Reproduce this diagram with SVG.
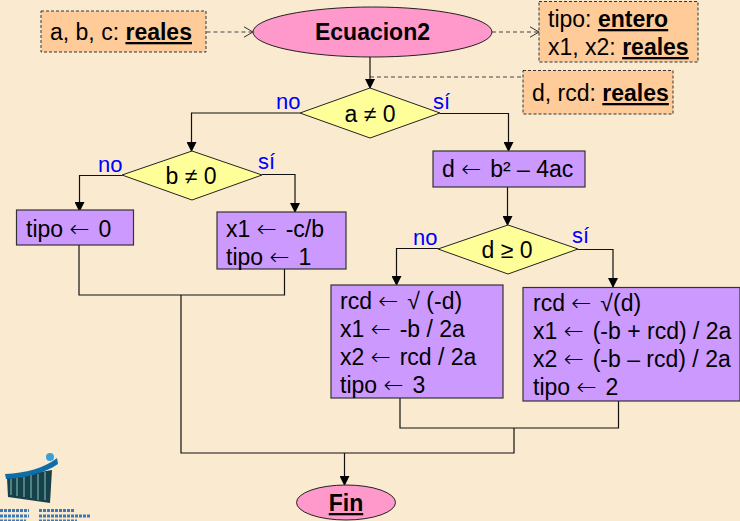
<svg xmlns="http://www.w3.org/2000/svg" width="740" height="521" viewBox="0 0 740 521">
<defs>
<marker id="solid" viewBox="0 0 10 10" refX="9" refY="5" markerUnits="userSpaceOnUse" markerWidth="10" markerHeight="10" orient="auto"><path d="M0 0L10 5L0 10Z" fill="#000"/></marker>
<marker id="open" viewBox="0 0 10 12" refX="9.500" refY="6" markerUnits="userSpaceOnUse" markerWidth="10" markerHeight="12" orient="auto"><path d="M0 0.500L9.500 6L0 11.500" fill="none" stroke="#333" stroke-width="1"/></marker>
</defs>
<style>
text{font-family:"Liberation Sans",Arial,sans-serif;font-size:23px;fill:#000}
.b{font-weight:700;text-decoration:underline}
.lab{fill:#0000ff;font-size:22px}
.a{font-family:"DejaVu Sans","Liberation Sans",sans-serif;font-weight:200;font-size:24px;letter-spacing:2.500px}
.data{fill:#ffcc99;stroke:#333;stroke-width:1;stroke-dasharray:3 2}
.proc{fill:#cc99ff;stroke:#333;stroke-width:1.200}
.dec{fill:#ffff99;stroke:#222;stroke-width:1}
.term{fill:#ff99cc;stroke:#222;stroke-width:1}
.c{fill:none;stroke:#111;stroke-width:1.200}
.d{fill:none;stroke:#444;stroke-width:1;stroke-dasharray:4 3}
.m{text-anchor:middle}
</style>
<rect width="740" height="521" fill="#faebd0"/>
<g id="connectors">
<path class="d" d="M206.500 32H253" marker-end="url(#open)"/>
<path class="d" d="M492 32H539" marker-end="url(#open)"/>
<path class="d" d="M370 77H523"/>
<path class="c" d="M370 56V88" marker-end="url(#solid)"/>
<path class="c" d="M300 113H191.500V151" marker-end="url(#solid)"/>
<path class="c" d="M440 113.500H508.500V151" marker-end="url(#solid)"/>
<path class="c" d="M122 175.500H79.500V211" marker-end="url(#solid)"/>
<path class="c" d="M262 174.500H295V212" marker-end="url(#solid)"/>
<path class="c" d="M507.500 187V225" marker-end="url(#solid)"/>
<path class="c" d="M438 248.500H396.500V285" marker-end="url(#solid)"/>
<path class="c" d="M578 249.500H613V287" marker-end="url(#solid)"/>
<path class="c" d="M79 245V295H284.500V269"/>
<path class="c" d="M400 398V428H618.500V401"/>
<path class="c" d="M181 295V453H514V428"/>
<path class="c" d="M344.500 453V485" marker-end="url(#solid)"/>
</g>
<g id="input"><rect class="data" x="41" y="11" width="165" height="41"/><text x="50" y="40">a, b, c: <tspan class="b">reales</tspan></text></g>
<g id="start"><ellipse class="term" cx="372.500" cy="32" rx="119.500" ry="25"/><text class="m" x="372.500" y="40" font-weight="700">Ecuacion2</text></g>
<g id="output"><rect class="data" x="539" y="1.500" width="159" height="60.500"/><text x="548" y="27">tipo: <tspan class="b">entero</tspan></text><text x="548" y="55">x1, x2: <tspan class="b">reales</tspan></text></g>
<g id="locals"><rect class="data" x="523" y="70.500" width="150" height="43.500"/><text x="532" y="101">d, rcd: <tspan class="b">reales</tspan></text></g>
<g id="dec-a"><path class="dec" d="M300 113L370 88L440 113L370 138Z"/><text class="m" x="370" y="122">a ≠ 0</text></g>
<g id="dec-b"><path class="dec" d="M122 175L192 151L262 175L192 200Z"/><text class="m" x="191" y="184">b ≠ 0</text></g>
<g id="assign-d"><rect class="proc" x="433" y="151" width="152" height="36"/><text x="442" y="177">d <tspan class="a">←</tspan> b² – 4ac</text></g>
<g id="tipo0"><rect class="proc" x="16.500" y="210" width="117" height="35"/><text x="26" y="237">tipo <tspan class="a">←</tspan> 0</text></g>
<g id="tipo1"><rect class="proc" x="217" y="212" width="129" height="57"/><text x="226" y="237">x1 <tspan class="a">←</tspan> -c/b</text><text x="226" y="265">tipo <tspan class="a">←</tspan> 1</text></g>
<g id="dec-d"><path class="dec" d="M438 249L508 225L578 249L508 274Z"/><text class="m" x="507" y="258">d ≥ 0</text></g>
<g id="neg"><rect class="proc" x="331" y="285" width="172" height="113"/><text x="340" y="309">rcd <tspan class="a">←</tspan> √ (-d)</text><text x="340" y="337">x1 <tspan class="a">←</tspan> -b / 2a</text><text x="340" y="365">x2 <tspan class="a">←</tspan> rcd / 2a</text><text x="340" y="393">tipo <tspan class="a">←</tspan> 3</text></g>
<g id="pos"><rect class="proc" x="523" y="287.500" width="217" height="113.500"/><text x="533" y="311">rcd <tspan class="a">←</tspan> √(d)</text><text x="533" y="339">x1 <tspan class="a">←</tspan> (-b + rcd) / 2a</text><text x="533" y="367">x2 <tspan class="a">←</tspan> (-b – rcd) / 2a</text><text x="533" y="395">tipo <tspan class="a">←</tspan> 2</text></g>
<g id="end"><ellipse class="term" cx="346" cy="502.500" rx="49.500" ry="17.500"/><text class="m b" x="346" y="511">Fin</text></g>
<g id="labels">
<text class="lab" x="276" y="109">no</text><text class="lab" x="433" y="109">sí</text>
<text class="lab" x="98" y="172">no</text><text class="lab" x="258" y="169">sí</text>
<text class="lab" x="413" y="245">no</text><text class="lab" x="572" y="243">sí</text>
</g>
<g id="logo">
<path d="M7 478L52 470L50 503L8 497Z" fill="#17404a"/>
<path d="M11 479V495M17 478V496M24 477V497M31 475V498M38 474V500M45 472V500" stroke="#5f9a96" stroke-width="1.500" fill="none"/>
<path d="M5 474C25 473 45 468 57 458L58 464C45 473 25 478 6 479Z" fill="#0f6da8"/>
<circle cx="50" cy="457" r="4" fill="#3d9fd6"/>
<path d="M0 510.500H29M0 516H29M0 521H26M39 510.500H74M39 516H91M39 521H77" stroke="#3b79b8" stroke-width="3" stroke-dasharray="3 1" fill="none"/>
</g>
</svg>
